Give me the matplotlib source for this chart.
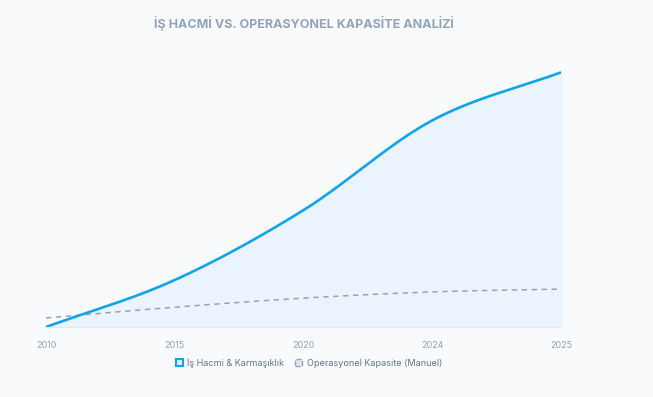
import matplotlib.pyplot as plt
import numpy as np
from matplotlib.patches import Patch

plt.rcParams['font.family'] = ['Inter', 'DejaVu Sans']

years = ['2010', '2015', '2020', '2024', '2025']
is_hacmi = [10, 26.6, 51.3, 83, 100]
kapasite = [13.2, 17, 20.2, 22.4, 23.4]

bg = '#f8fafc'
blue = '#0ea5e9'
grey = '#94a3b8'


def smooth(y, n=200):
    # cardinal (catmull-rom) curve through the points, like a tensioned web line
    y = np.asarray(y, dtype=float)
    m = np.zeros_like(y)
    m[0] = y[1] - y[0]
    m[-1] = y[-1] - y[-2]
    m[1:-1] = (y[2:] - y[:-2]) / 2
    xs = np.linspace(0, len(y) - 1, n)
    idx = np.minimum(xs.astype(int), len(y) - 2)
    t = xs - idx
    h00 = 2 * t**3 - 3 * t**2 + 1
    h10 = t**3 - 2 * t**2 + t
    h01 = -2 * t**3 + 3 * t**2
    h11 = t**3 - t**2
    ys = h00 * y[idx] + h10 * m[idx] + h01 * y[idx + 1] + h11 * m[idx + 1]
    return xs, ys


fig = plt.figure(figsize=(6.53, 3.97), dpi=100, facecolor=bg)
ax = fig.add_axes([46 / 653, 1 - 327 / 397, (561 - 46) / 653, (327 - 44) / 397])
ax.set_facecolor(bg)

xs, ys = smooth(is_hacmi)
ax.fill_between(xs, ys, 10, color='#ebf4fc', zorder=1)
ax.plot(xs, ys, color=blue, linewidth=1.9, solid_capstyle='butt', zorder=3)

xk, yk = smooth(kapasite)
ax.plot(xk, yk, color=grey, linewidth=1.1, linestyle=(0, (3.5, 3)), zorder=2)

ax.set_xlim(0, len(years) - 1)
ax.set_ylim(10, 110)
ax.set_xticks(range(len(years)))
ax.set_xticklabels(years, fontsize=6.5, color=grey)
ax.set_yticks([])
ax.tick_params(axis='x', length=0, pad=10)
for s in ['top', 'left', 'right']:
    ax.spines[s].set_visible(False)
ax.spines['bottom'].set_color('#e2e8f0')
ax.spines['bottom'].set_linewidth(0.8)

fig.text(303.5 / 653, 1 - 23 / 397, 'İŞ HACMİ VS. OPERASYONEL KAPASİTE ANALİZİ',
         ha='center', va='center', fontsize=9, fontweight='bold', color=grey)

handles = [Patch(facecolor='#e0f2fe', edgecolor=blue, linewidth=1.5),
           Patch(facecolor='#e2e8f0', edgecolor=grey, linewidth=1, linestyle='--')]
fig.legend(handles, ['İş Hacmi & Karmaşıklık', 'Operasyonel Kapasite (Manuel)'],
           loc='center', bbox_to_anchor=(309 / 653, 1 - 363 / 397), ncol=2,
           frameon=False, fontsize=6.5, labelcolor='#64748b',
           handlelength=0.8, handleheight=0.8, handletextpad=0.5, columnspacing=1.2)

fig.savefig('out.png', dpi=100, facecolor=bg)
